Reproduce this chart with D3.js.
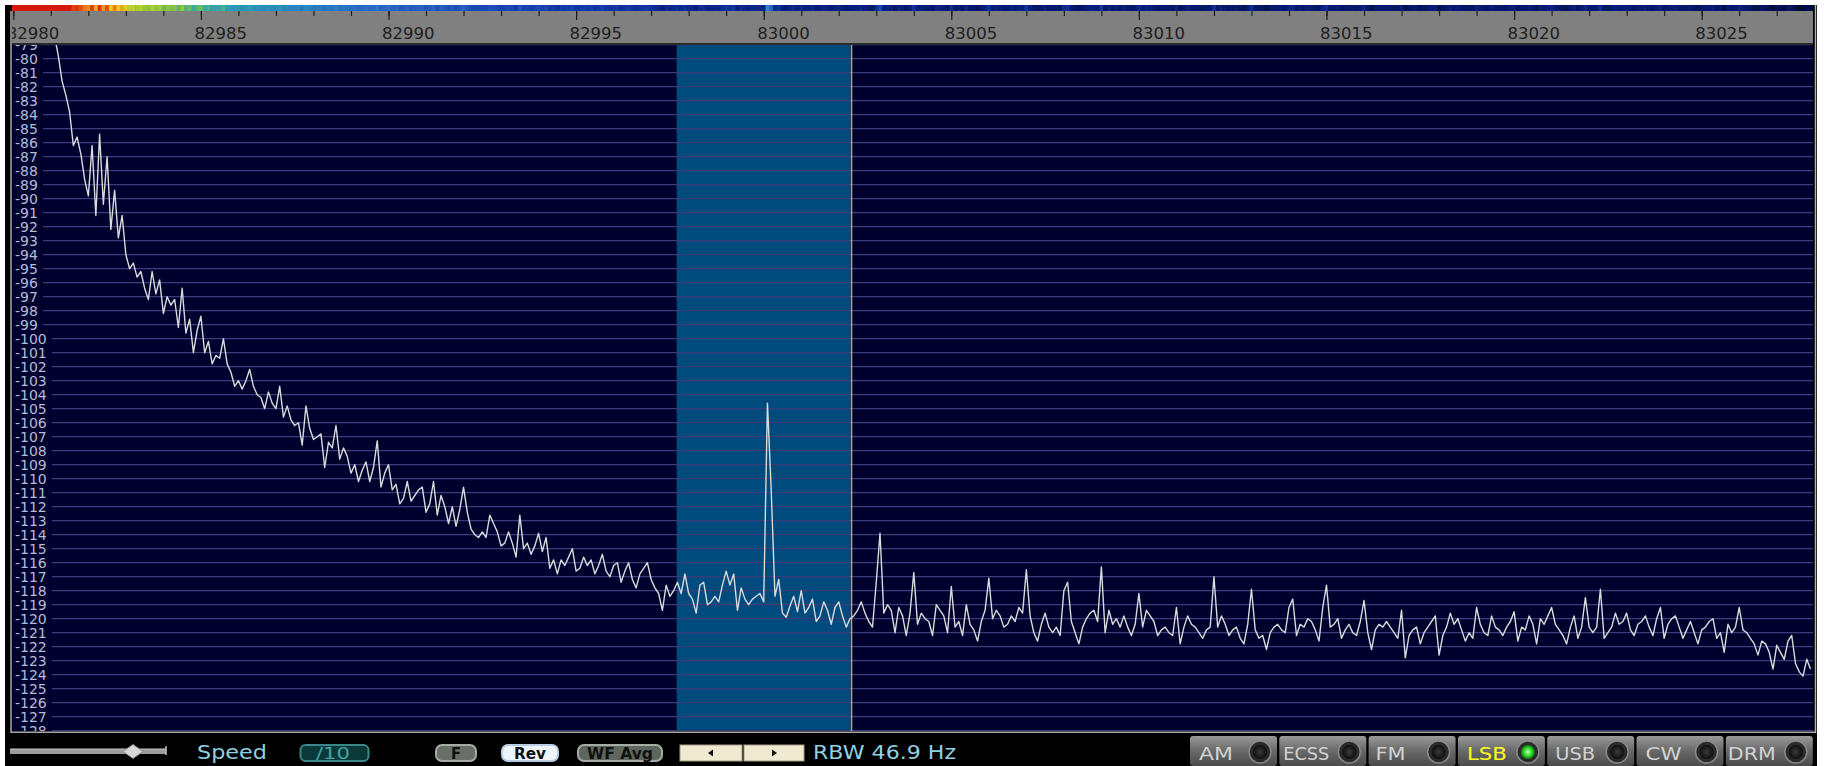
<!DOCTYPE html>
<html>
<head>
<meta charset="utf-8">
<script src="https://cdn.jsdelivr.net/npm/d3@7/dist/d3.min.js"></script>
<style>
  html, body { margin: 0; padding: 0; background: #ffffff; overflow: hidden; }
  svg { display: block; }
  text { font-family: "DejaVu Sans", sans-serif; }
</style>
</head>
<body>
<svg id="chart" width="1824" height="766"></svg>
<script>
// ---------------- DATA ----------------
// spectrum bins: first bin frequency and bin spacing (Hz on the axis)
const binStart = 82981.1;
const binStep = 0.1;
// measured level of each bin (dB)
const levels = [
  -78.4, -79.8, -81.6, -82.6, -83.8, -86.2, -85.6, -86.8, -88.6, -89.8,
  -86.2, -91.2, -85.4, -90.4, -87.0, -92.2, -89.4, -92.8, -91.2, -94.0,
  -95.0, -94.6, -95.6, -95.2, -96.4, -97.2, -95.2, -96.8, -95.8, -98.2,
  -97.0, -97.6, -97.2, -99.2, -96.4, -99.6, -98.6, -101.0, -99.4, -98.4,
  -101.0, -100.2, -101.8, -101.2, -101.4, -100.0, -101.8, -102.4, -103.4, -103.0,
  -103.6, -103.0, -102.2, -103.4, -104.0, -104.2, -105.0, -103.8, -104.6, -105.0,
  -103.4, -105.6, -104.8, -105.8, -106.2, -106.0, -107.6, -104.8, -106.4, -107.2,
  -107.0, -106.8, -109.2, -107.4, -107.8, -106.2, -108.6, -107.8, -108.4, -109.6,
  -109.0, -110.2, -109.4, -108.8, -110.2, -109.2, -107.3, -110.6, -109.6, -109.0,
  -110.8, -110.4, -111.8, -111.4, -110.2, -111.6, -111.2, -110.8, -110.6, -112.4,
  -111.8, -110.2, -112.6, -111.2, -112.0, -113.2, -112.0, -113.4, -112.2, -110.6,
  -112.4, -113.6, -114.0, -114.2, -113.8, -114.2, -112.6, -113.2, -113.8, -114.8,
  -114.6, -113.8, -114.6, -115.6, -112.6, -115.0, -114.6, -115.4, -114.8, -113.9,
  -115.2, -114.2, -116.4, -115.8, -116.8, -115.8, -116.2, -115.6, -115.0, -116.6,
  -116.4, -115.6, -116.2, -115.8, -116.8, -116.2, -115.4, -116.6, -117.0, -116.2,
  -116.0, -117.4, -116.6, -116.0, -117.2, -117.8, -116.8, -116.4, -116.0, -117.2,
  -117.8, -118.2, -119.4, -117.6, -118.4, -118.0, -117.4, -118.2, -116.8, -118.2,
  -118.6, -119.6, -117.6, -117.4, -119.0, -118.8, -118.4, -118.8, -117.6, -116.6,
  -117.6, -116.8, -119.4, -117.8, -118.6, -119.0, -118.6, -118.4, -118.2, -118.8,
  -104.6, -110.8, -118.4, -117.2, -119.6, -119.9, -119.1, -118.4, -119.5, -118.0,
  -119.6, -119.2, -118.6, -120.2, -119.8, -118.8, -119.4, -120.4, -119.2, -118.8,
  -119.8, -120.6, -120.0, -119.8, -119.4, -118.8, -119.6, -120.2, -120.6, -117.4,
  -113.9, -119.6, -119.0, -119.4, -121.0, -119.2, -119.8, -121.2, -119.6, -116.7,
  -120.4, -119.6, -120.0, -120.2, -121.2, -119.0, -119.4, -119.8, -121.0, -117.7,
  -120.6, -120.2, -121.2, -119.0, -120.4, -120.8, -121.6, -120.2, -119.4, -117.1,
  -120.0, -119.4, -119.8, -120.6, -120.4, -119.8, -120.2, -119.2, -119.6, -116.5,
  -119.8, -121.0, -121.6, -120.4, -119.6, -120.6, -121.0, -120.6, -121.2, -118.0,
  -117.4, -120.2, -121.0, -121.8, -120.6, -120.0, -119.6, -119.4, -120.2, -116.3,
  -121.0, -119.4, -120.4, -120.0, -120.6, -119.8, -120.6, -121.2, -120.4, -118.2,
  -120.6, -119.4, -119.8, -120.2, -121.2, -120.8, -120.6, -121.0, -121.2, -119.2,
  -121.8, -120.6, -119.8, -120.4, -120.6, -121.0, -121.4, -120.8, -120.6, -117.0,
  -120.6, -119.8, -120.4, -121.2, -120.8, -120.6, -121.4, -121.8, -120.4, -117.9,
  -120.8, -121.4, -121.2, -122.2, -121.0, -120.6, -120.4, -120.8, -121.0, -119.2,
  -118.6, -121.2, -120.4, -120.6, -120.0, -120.2, -120.8, -121.6, -119.2, -117.6,
  -120.6, -120.4, -120.0, -121.4, -120.8, -120.4, -121.0, -121.2, -120.2, -118.7,
  -121.0, -122.2, -120.8, -120.4, -120.6, -120.2, -120.6, -121.0, -121.4, -119.4,
  -122.8, -121.2, -120.8, -120.6, -121.8, -121.0, -120.6, -120.2, -119.8, -122.6,
  -121.2, -120.6, -119.6, -120.4, -120.0, -120.8, -121.6, -121.0, -121.4, -119.2,
  -120.4, -121.0, -121.2, -119.8, -120.6, -120.8, -121.2, -120.6, -120.2, -119.5,
  -121.6, -120.6, -120.8, -119.8, -120.4, -121.8, -120.0, -120.4, -119.8, -119.2,
  -120.4, -120.8, -121.2, -121.8, -120.6, -119.8, -121.4, -120.6, -118.5, -120.6,
  -121.0, -120.6, -117.9, -121.4, -121.0, -120.6, -119.6, -120.4, -120.2, -119.6,
  -120.8, -121.2, -120.4, -120.2, -119.8, -120.6, -121.2, -120.0, -119.2, -121.4,
  -120.4, -120.0, -119.8, -120.6, -121.4, -120.8, -120.2, -121.0, -121.8, -120.8,
  -120.6, -120.2, -120.0, -121.4, -121.0, -122.4, -120.4, -121.0, -120.6, -119.2,
  -120.8, -121.0, -121.4, -121.8, -122.6, -121.6, -121.8, -122.4, -123.6, -121.9,
  -122.4, -122.9, -121.6, -121.2, -123.2, -123.8, -124.1, -122.9, -123.6
];
// axis tick labels
const freqTickLabels = [82980, 82985, 82990, 82995, 83000, 83005, 83010, 83015, 83020, 83025];
const freqMinorTicks = [82980,82981,82982,82983,82984,82985,82986,82987,82988,82989,82990,82991,82992,82993,82994,82995,82996,82997,82998,82999,83000,83001,83002,83003,83004,83005,83006,83007,83008,83009,83010,83011,83012,83013,83014,83015,83016,83017,83018,83019,83020,83021,83022,83023,83024,83025,83026,83027];
const levelTicks = [-79,-80,-81,-82,-83,-84,-85,-86,-87,-88,-89,-90,-91,-92,-93,-94,-95,-96,-97,-98,-99,-100,-101,-102,-103,-104,-105,-106,-107,-108,-109,-110,-111,-112,-113,-114,-115,-116,-117,-118,-119,-120,-121,-122,-123,-124,-125,-126,-127,-128];
// receiver passband and tuned frequency
const passband = [82997.68, 83002.3];
const tunedFreq = 83002.34;
// control strip texts
const speedLabel = "Speed";
const speedValue = "/10";
const toggleButtons = ["F", "Rev", "WF Avg"];
const rbwLabel = "RBW 46.9 Hz";
const modes = ["AM", "ECSS", "FM", "LSB", "USB", "CW", "DRM"];
const activeMode = "LSB";
// waterfall colour ramp (level stops -> colours)
const wfStops = [-124, -120, -116, -110, -102, -97, -93, -89, -84];
const wfColors = ["#000836", "#061c78", "#123aa8", "#2868c8", "#2aa0b8", "#88c838", "#f0d020", "#f07818", "#d41a0a"];

// ---------------- LAYOUT ----------------
const plot = { l: 12, r: 1813, t: 45, b: 731 };
const svg = d3.select("#chart");
const defs = svg.append("defs");

defs.append("clipPath").attr("id", "plotClip")
  .append("rect").attr("x", plot.l).attr("y", plot.t)
  .attr("width", plot.r - plot.l).attr("height", plot.b - plot.t);
defs.append("clipPath").attr("id", "barClip")
  .append("rect").attr("x", plot.l).attr("y", 5)
  .attr("width", plot.r - plot.l).attr("height", 40);

const x = d3.scaleLinear().domain([82980, 83025]).range([13.3, 1701.7]);
const y = d3.scaleLinear().domain([-80, -127]).range([58.7, 716.7]);
const wfColor = d3.scaleLinear().domain(wfStops).range(wfColors).clamp(true);

const data = levels.map((v, i) => ({ f: binStart + i * binStep, v: v }));

// black frame
svg.append("rect").attr("x", 5).attr("y", 5).attr("width", 1812).attr("height", 761).attr("fill", "#000000");

// ---------------- WATERFALL STRIP ----------------
const binPx = x(binStart + binStep) - x(binStart);
const wf = svg.append("g").attr("clip-path", "url(#barClip)");
wf.selectAll("rect").data(data).enter().append("rect")
  .attr("x", (d, i) => i === 0 ? plot.l : x(d.f) - binPx / 2)
  .attr("width", (d, i) => i === 0 ? x(d.f) + binPx / 2 - plot.l + 0.5 : binPx + 0.5)
  .attr("y", 5).attr("height", 6)
  .attr("fill", d => wfColor(d.v));

// ---------------- FREQUENCY BAR ----------------
svg.append("rect").attr("x", plot.l).attr("y", 11).attr("width", plot.r - plot.l).attr("height", 32).attr("fill", "#808080");
svg.append("rect").attr("x", plot.l).attr("y", 43).attr("width", plot.r - plot.l).attr("height", 2).attr("fill", "#2a2a2a");

const axisG = svg.append("g").attr("clip-path", "url(#barClip)");
const minorAxis = axisG.append("g").attr("transform", "translate(0,11)")
  .call(d3.axisBottom(x).tickValues(freqMinorTicks).tickSize(5).tickFormat(""));
const majorAxis = axisG.append("g").attr("transform", "translate(0,11)")
  .call(d3.axisBottom(x).tickValues(freqTickLabels).tickSize(9).tickFormat(d3.format("d")));
[minorAxis, majorAxis].forEach(g => {
  g.select(".domain").remove();
  g.selectAll(".tick line").attr("stroke", "#1e1e1e").attr("stroke-width", 1.2);
});
majorAxis.selectAll(".tick text")
  .attr("text-anchor", "start").attr("x", -7).attr("y", 28).attr("dy", 0)
  .attr("fill", "#1e1e1e").attr("font-size", "16.5px")
  .attr("font-family", "DejaVu Sans, sans-serif");

// ---------------- PLOT ----------------
const plotG = svg.append("g").attr("clip-path", "url(#plotClip)");
plotG.append("rect").attr("x", plot.l).attr("y", plot.t)
  .attr("width", plot.r - plot.l).attr("height", plot.b - plot.t).attr("fill", "#00002f");

// passband
plotG.append("rect")
  .attr("x", x(passband[0])).attr("y", plot.t)
  .attr("width", x(passband[1]) - x(passband[0])).attr("height", plot.b - plot.t)
  .attr("fill", "#004b7e");

// grid lines
plotG.append("g").selectAll("line").data(levelTicks).enter().append("line")
  .attr("x1", plot.l).attr("x2", plot.r)
  .attr("y1", d => y(d)).attr("y2", d => y(d))
  .attr("stroke", "#3c3c7a").attr("stroke-width", 1.3);

// level labels with background (the first and last are cut by the plot edge)
const lab = plotG.append("g").selectAll("g").data(levelTicks).enter().append("g");
lab.append("rect")
  .attr("x", plot.l).attr("y", d => y(d) - 6)
  .attr("width", d => (String(d).length === 3 ? 31 : 40)).attr("height", 12)
  .attr("fill", "#00002f");
lab.append("text")
  .attr("x", 15).attr("y", d => y(d)).attr("dy", "0.36em")
  .attr("fill", "#b4bcd6").attr("font-size", "14px")
  .text(d => d);

// tuned frequency marker
plotG.append("line")
  .attr("x1", x(tunedFreq)).attr("x2", x(tunedFreq))
  .attr("y1", plot.t).attr("y2", plot.b)
  .attr("stroke", "#a8a8a8").attr("stroke-width", 1.6);

// spectrum trace
const line = d3.line().x(d => x(d.f)).y(d => y(d.v));
plotG.append("path").datum(data)
  .attr("d", line).attr("fill", "none")
  .attr("stroke", "#dadada").attr("stroke-width", 1.4)
  .attr("stroke-linejoin", "round");

// plot border
svg.append("line").attr("x1", 11).attr("x2", 11).attr("y1", 11).attr("y2", 733).attr("stroke", "#a8a8a8").attr("stroke-width", 1.5);
svg.append("line").attr("x1", 11).attr("x2", 1816).attr("y1", 732.3).attr("y2", 732.3).attr("stroke", "#a8a8a8").attr("stroke-width", 1.5);
svg.append("line").attr("x1", 1815.5).attr("x2", 1815.5).attr("y1", 5).attr("y2", 733).attr("stroke", "#b0b0b0").attr("stroke-width", 1.5);

// ---------------- CONTROL STRIP ----------------
const ctl = svg.append("g");
// slider
ctl.append("rect").attr("x", 10).attr("y", 749).attr("width", 156).attr("height", 5).attr("fill", "#9c9c9c");
ctl.append("line").attr("x1", 10).attr("x2", 166).attr("y1", 749).attr("y2", 749).attr("stroke", "#c8c8c8").attr("stroke-width", 1);
ctl.append("line").attr("x1", 166).attr("x2", 166).attr("y1", 746).attr("y2", 755).attr("stroke", "#c0c0c0").attr("stroke-width", 1.5);
ctl.append("path").attr("d", "M123,751.5 L133,744.5 L143,751.5 L133,758.5 Z").attr("fill", "#d6d6d6").attr("stroke", "#8c8c8c").attr("stroke-width", 1);

const cyan = "#8fd0e2";
ctl.append("text").attr("x", 197).attr("y", 759).attr("fill", cyan).attr("font-size", "19px")
  .attr("textLength", 70).attr("lengthAdjust", "spacingAndGlyphs").text(speedLabel);

// speed value box
ctl.append("rect").attr("x", 300.5).attr("y", 745).attr("width", 68).attr("height", 16).attr("rx", 5)
  .attr("fill", "#0b3838").attr("stroke", "#3b8686").attr("stroke-width", 2);
ctl.append("text").attr("x", 316).attr("y", 758.5).attr("fill", "#42a4a4").attr("font-size", "15px")
  .attr("textLength", 34).attr("lengthAdjust", "spacingAndGlyphs").text(speedValue);

// toggle buttons
const toggleSpec = [
  { x0: 436, w: 40, fill: "#687068", stroke: "#a4aca4", tl: 10 },
  { x0: 502, w: 56, fill: "#eef4fb", stroke: "#b8cce2", tl: 32 },
  { x0: 578, w: 84, fill: "#5e665e", stroke: "#a4aca4", tl: 66 }
];
toggleButtons.forEach((t, i) => {
  const s = toggleSpec[i];
  ctl.append("rect").attr("x", s.x0).attr("y", 745).attr("width", s.w).attr("height", 16).attr("rx", 6)
    .attr("fill", s.fill).attr("stroke", s.stroke).attr("stroke-width", 2);
  ctl.append("text").attr("x", s.x0 + s.w / 2).attr("y", 758.5).attr("text-anchor", "middle")
    .attr("fill", "#111111").attr("font-size", "15px").attr("font-weight", "bold")
    .attr("textLength", s.tl).attr("lengthAdjust", "spacingAndGlyphs").text(t);
});

// arrow buttons
[[680, 62, -1], [744, 60, 1]].forEach(([bx, bw, dir]) => {
  ctl.append("rect").attr("x", bx).attr("y", 745).attr("width", bw).attr("height", 16)
    .attr("fill", "#f0ead2").attr("stroke", "#a79f86").attr("stroke-width", 1);
  const cx = bx + bw / 2;
  const p = dir < 0 ? `M${cx - 3},753 L${cx + 2},749.5 L${cx + 2},756.5 Z` : `M${cx - 2},749.5 L${cx + 3},753 L${cx - 2},756.5 Z`;
  ctl.append("path").attr("d", p).attr("fill", "#111111");
});

ctl.append("text").attr("x", 813).attr("y", 759).attr("fill", cyan).attr("font-size", "19px")
  .attr("textLength", 143).attr("lengthAdjust", "spacingAndGlyphs").text(rbwLabel);

// mode buttons
const grad = defs.append("linearGradient").attr("id", "modeGrad").attr("x1", 0).attr("x2", 0).attr("y1", 0).attr("y2", 1);
grad.append("stop").attr("offset", "0%").attr("stop-color", "#9a9a9a");
grad.append("stop").attr("offset", "45%").attr("stop-color", "#6c6c6c");
grad.append("stop").attr("offset", "100%").attr("stop-color", "#4a4a4a");
const knobGrad = defs.append("radialGradient").attr("id", "knobGrad");
knobGrad.append("stop").attr("offset", "0%").attr("stop-color", "#3a3a3a");
knobGrad.append("stop").attr("offset", "100%").attr("stop-color", "#0e0e0e");
const ledGrad = defs.append("radialGradient").attr("id", "ledGrad");
ledGrad.append("stop").attr("offset", "0%").attr("stop-color", "#b8ffb0");
ledGrad.append("stop").attr("offset", "60%").attr("stop-color", "#28d828");
ledGrad.append("stop").attr("offset", "100%").attr("stop-color", "#0e7a0e");

const modeTextLen = { AM: 34, ECSS: 46, FM: 30, LSB: 40, USB: 40, CW: 36, DRM: 48 };
const modeTextOff = { AM: 9, ECSS: 4, FM: 7, LSB: 9, USB: 8, CW: 9, DRM: 2 };
modes.forEach((m, i) => {
  const bx = 1190 + i * 89.3;
  const g = ctl.append("g");
  g.append("rect").attr("x", bx).attr("y", 736).attr("width", 87).attr("height", 30).attr("rx", 3)
    .attr("fill", "url(#modeGrad)");
  g.append("text").attr("x", bx + modeTextOff[m]).attr("y", 760)
    .attr("fill", m === activeMode ? "#ffff1e" : "#d2d2d2").attr("font-size", "18px")
    .attr("textLength", modeTextLen[m]).attr("lengthAdjust", "spacingAndGlyphs").text(m);
  g.append("circle").attr("cx", bx + 70).attr("cy", 752).attr("r", 11)
    .attr("fill", "#2a2a2a").attr("stroke", "#8a8a8a").attr("stroke-width", 1.5);
  g.append("circle").attr("cx", bx + 70).attr("cy", 752).attr("r", 7)
    .attr("fill", m === activeMode ? "url(#ledGrad)" : "url(#knobGrad)");
});
</script>
</body>
</html>
